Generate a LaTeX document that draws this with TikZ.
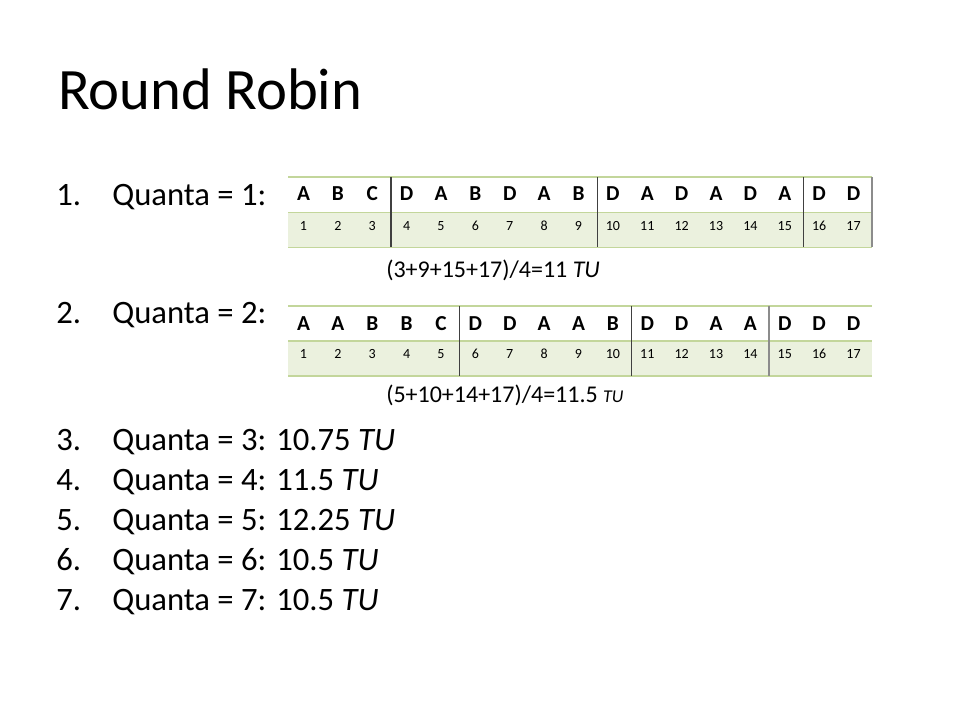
\documentclass[tikz,border=0pt]{standalone}
\usepackage{fontspec}
\setmainfont{Carlito}
\definecolor{gline}{HTML}{C3D69B}
\definecolor{gfill}{HTML}{EBF1DE}
\definecolor{divc}{HTML}{404040}
\definecolor{edgec}{HTML}{8C8C8C}
\begin{document}
\begin{tikzpicture}[x=0.75pt,y=-0.75pt,
  ttl/.style={anchor=base west, inner sep=0, font=\fontsize{44}{50}\selectfont},
  item/.style={anchor=base west, inner sep=0, font=\fontsize{24.5}{28}\selectfont},
  lett/.style={anchor=base, inner sep=0, font=\fontsize{16}{18}\selectfont\bfseries},
  numb/.style={anchor=base, inner sep=0, font=\fontsize{10.5}{12}\selectfont},
  frm/.style={anchor=base west, inner sep=0, font=\fontsize{18}{21}\selectfont},
  hl/.style={draw=gline, line width=1.1pt},
  vl/.style={draw=divc, line width=0.9pt},
  el/.style={draw=edgec, line width=1.1pt}]
\useasboundingbox (0,0) rectangle (960,720);
\fill[white] (0,0) rectangle (960,720);
% title
\node[ttl] (title) at (58,110) {Round Robin};
% items
\node[item] (n1) at (56,206) {1.};
\node[item] (q1) at (112,206) {Quanta = 1:};
\node[item] (n2) at (56,323.3) {2.};
\node[item] (q2) at (112,323.3) {Quanta = 2:};
\node[item] (n3) at (56,450) {3.};
\node[item] (q3) at (112,450) {Quanta = 3: 10.75 \textit{TU}};
\node[item] (n4) at (56,490.5) {4.};
\node[item] (q4) at (112,490.5) {Quanta = 4: 11.5 \textit{TU}};
\node[item] (n5) at (56,530.5) {5.};
\node[item] (q5) at (112,530.5) {Quanta = 5: 12.25 \textit{TU}};
\node[item] (n6) at (56,570) {6.};
\node[item] (q6) at (112,570) {Quanta = 6: 10.5 \textit{TU}};
\node[item] (n7) at (56,610) {7.};
\node[item] (q7) at (112,610) {Quanta = 7: 10.5 \textit{TU}};
% table 1
\fill[gfill] (288,212.5) rectangle (872,247.5);
\draw[hl] (288,177) -- (872,177);
\draw[hl] (288,212.5) -- (872,212.5);
\draw[hl] (288,247.5) -- (872,247.5);
\foreach \c in {3,9,15}{
  \draw[vl] ({288+\c*34.35},177) -- ({288+\c*34.35},247.5);
}
\draw[el] (872,177) -- (872,247.5);
\foreach \l [count=\i] in {A,B,C,D,A,B,D,A,B,D,A,D,A,D,A,D,D}{
  \node[lett] (ta\i) at ({288+15.5+(\i-1)*34.375},200.7) {\l};
  \node[numb] (na\i) at ({288+15.5+(\i-1)*34.375},231) {\i};
}
\node[frm] (f1) at (386,277) {(3+9+15+17)/4=11 \textit{TU}};
% table 2
\fill[gfill] (288,341) rectangle (872,376);
\draw[hl] (288,306) -- (872,306);
\draw[hl] (288,341) -- (872,341);
\draw[hl] (288,376) -- (872,376);
\foreach \c in {5,10}{
  \draw[vl] ({288+\c*34.35},306) -- ({288+\c*34.35},376);
}
\draw[el] ({288+14*34.35},306) -- ({288+14*34.35},376);
\foreach \l [count=\i] in {A,A,B,B,C,D,D,A,A,B,D,D,A,A,D,D,D}{
  \node[lett] (tb\i) at ({288+15.5+(\i-1)*34.375},330.7) {\l};
  \node[numb] (nb\i) at ({288+15.5+(\i-1)*34.375},358) {\i};
}
\node[frm] (f2) at (386,402) {(5+10+14+17)/4=11.5 {\fontsize{13.5}{15}\selectfont\itshape TU}};
\end{tikzpicture}
\end{document}
